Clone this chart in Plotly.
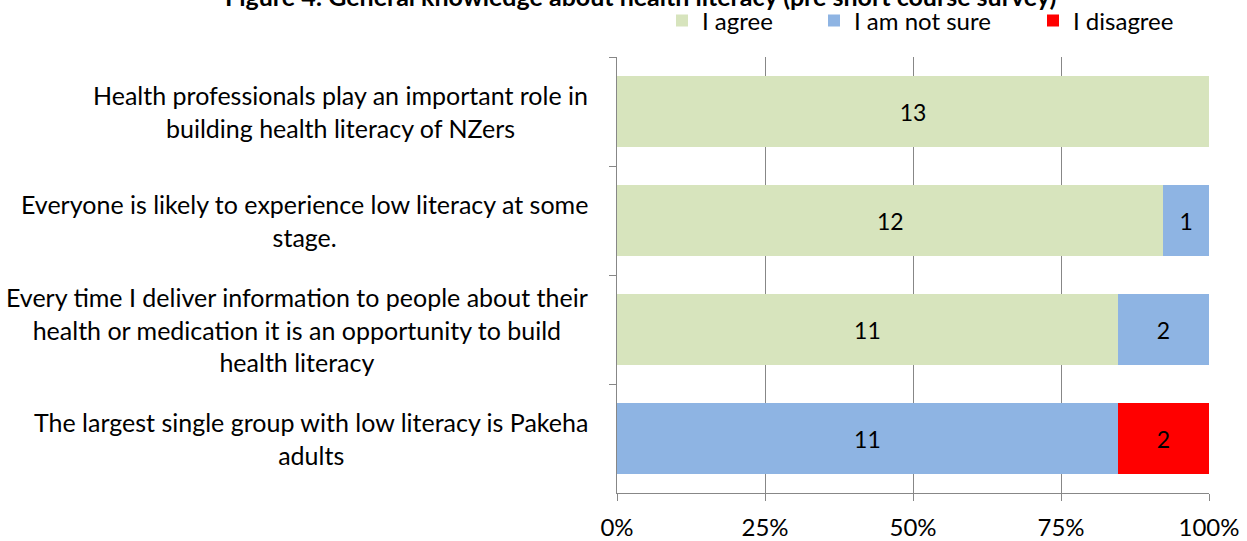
import plotly.graph_objects as go

statements = [
    "Health professionals play an important role in<br>building health literacy of NZers",
    "Everyone is likely to experience low literacy at some<br>stage.",
    "Every time I deliver information to people about their<br>health or medication it is an opportunity to build<br>health literacy",
    "The largest single group with low literacy is Pakeha<br>adults",
]
keys = ["s1", "s2", "s3", "s4"]
agree = [13, 12, 11, 0]
not_sure = [0, 1, 2, 11]
disagree = [0, 0, 0, 2]
pct_ticks = [0, 25, 50, 75, 100]
pct_labels = ["0%", "25%", "50%", "75%", "100%"]

FONT = "Lato"
GRID = "#878787"
series = [
    ("I agree", agree, "#D7E4BD", "legend"),
    ("I am not sure", not_sure, "#8EB4E3", "legend2"),
    ("I disagree", disagree, "#FF0000", "legend3"),
]

fig = go.Figure()
for name, vals, col, leg in series:
    fig.add_trace(go.Bar(
        y=keys, x=vals, name=name, orientation="h", legend=leg,
        marker=dict(color=col, line=dict(width=0)),
        text=[str(v) if v else "" for v in vals],
        textposition="inside", insidetextanchor="middle",
        textfont=dict(color="black", size=23, family=FONT),
        hoverinfo="skip",
    ))

for k, s in zip(keys, statements):
    fig.add_annotation(
        x=-0.046, xref="paper", y=k, yref="y", text=s, showarrow=False,
        xanchor="right", yanchor="middle", align="center",
        font=dict(size=25, family=FONT, color="black"),
    )

fig.add_annotation(
    x=0.039, xref="paper", y=1.101, yref="paper", yanchor="bottom", xanchor="center",
    text="<b>Figure 4: General knowledge about health literacy (pre short course survey)</b>",
    showarrow=False, font=dict(size=25, family=FONT, color="black"),
)

legend_style = dict(
    orientation="h", yref="container", y=1 - 21 / 541, yanchor="middle",
    xref="container", xanchor="left",
    font=dict(size=24, family=FONT, color="black"), bgcolor="rgba(0,0,0,0)",
    itemwidth=30,
)

fig.update_layout(
    barmode="stack", barnorm="percent", bargap=0.34,
    width=1247, height=541,
    margin=dict(l=617, r=38, t=57, b=48, autoexpand=False),
    paper_bgcolor="white", plot_bgcolor="white",
    font=dict(family=FONT, size=24, color="black"),
    showlegend=True,
    legend=dict(legend_style, x=(682 - 20) / 1247),
    legend2=dict(legend_style, x=(834 - 20) / 1247),
    legend3=dict(legend_style, x=(1053 - 20) / 1247),
    xaxis=dict(
        range=[0, 100], tickvals=pct_ticks, ticktext=pct_labels,
        showgrid=True, gridcolor=GRID, gridwidth=1,
        showline=True, linecolor=GRID, linewidth=1,
        ticks="outside", ticklen=7, tickcolor=GRID, ticklabelstandoff=6,
        zeroline=False, tickfont=dict(size=24, family=FONT),
    ),
    yaxis=dict(
        categoryorder="array", categoryarray=keys, autorange="reversed",
        showticklabels=False, showgrid=False,
        showline=True, linecolor=GRID, linewidth=1,
        ticks="outside", ticklen=7, tickcolor=GRID, tickson="boundaries",
    ),
)

fig.write_html("out.html")
